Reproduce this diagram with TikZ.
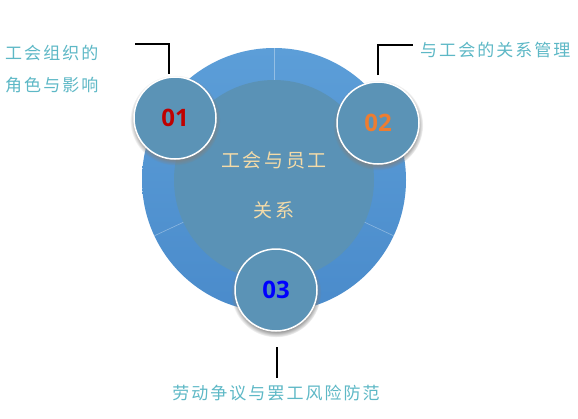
\documentclass[tikz,border=0pt]{standalone}
\usepackage{fontspec}
\usepackage{tikz}
\usetikzlibrary{shadows,calc}
\newfontfamily\cjk[LetterSpace=12]{Noto Sans CJK SC}
\newfontfamily\cjkmid[LetterSpace=14]{Noto Sans CJK SC}
\newfontfamily\numfont{Open Sans}[BoldFont={Open Sans Bold}]
\definecolor{ringtop}{HTML}{5C9ED8}
\definecolor{ringbot}{HTML}{4A8BCB}
\definecolor{corefill}{HTML}{5A92B6}
\definecolor{badgefill}{HTML}{5B93B6}
\definecolor{tealtext}{HTML}{5DB8C6}
\definecolor{sand}{HTML}{F4DBA8}
\definecolor{numred}{HTML}{C00000}
\definecolor{numorange}{HTML}{ED7D31}
\definecolor{numblue}{HTML}{0000FF}

\begin{document}
\begin{tikzpicture}[
  x=1pt,y=-1pt,
  ring/.style={circle,minimum size=264pt,inner sep=0pt,top color=ringtop,bottom color=ringbot},
  disc/.style={circle,fill=corefill,minimum size=200pt,inner sep=0pt},
  title/.style={align=center,text=sand,font=\cjkmid\fontsize{19}{50}\selectfont,inner sep=0pt},
  badge/.style={circle,fill=badgefill,draw=white,line width=1.5pt,minimum size=82pt,inner sep=0pt,
    font=\numfont\bfseries\fontsize{24}{24}\selectfont,
    circular drop shadow={shadow xshift=0pt,shadow yshift=-2pt,shadow scale=1.1,opacity=.9}},
  lbl/.style={text=tealtext,font=\cjk\fontsize{17}{32}\selectfont,inner sep=0pt,align=left},
  leader/.style={line width=1.8pt,black},
  seam/.style={white,opacity=.35,line width=.6pt}
]
\useasboundingbox[fill=white] (0,0) rectangle (578,418);

% ring and core
\node[ring] (ring) at (274,180) {};
\node[disc] (core) at (274,180) {};
\draw[seam] (ring.90)--(core.90);
\draw[seam] (ring.205)--(core.205);
\draw[seam] (ring.335)--(core.335);
\node[title] (title) at ([yshift=-5pt]core.center) {工会与员工\\关系};

% badges
\node[badge,text=numred] (n1) at (175,118) {01};
\node[badge,text=numorange] (n2) at (378,123) {02};
\node[badge,text=numblue] (n3) at (276,290) {03};

% labels
\node[lbl,anchor=west] (l1) at (5,69) {工会组织的\\角色与影响};
\node[lbl,anchor=west] (l2) at (420,50) {与工会的关系管理};
\node[lbl] (l3) at (276,393) {劳动争议与罢工风险防范};

% leaders
\coordinate (k1a) at (135,44);
\coordinate (k1b) at (169,74);
\coordinate (k2a) at (378,75);
\coordinate (k2b) at (413,45);
\coordinate (k3a) at (277,347);
\coordinate (k3b) at (277,378);
\draw[leader] (k1a) -| (k1b);
\draw[leader] (k2a) |- (k2b);
\draw[leader] (k3a) -- (k3b);
\end{tikzpicture}
\end{document}
